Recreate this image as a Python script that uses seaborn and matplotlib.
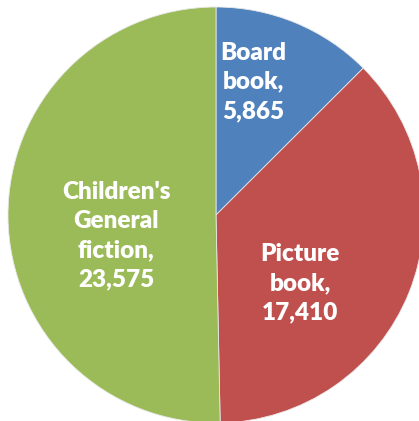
import numpy as np
import matplotlib
matplotlib.use('Agg')
import matplotlib.pyplot as plt
import seaborn as sns

# ── data ────────────────────────────────────────────────
categories = ["Board\nbook,", "Picture\nbook,", "Children's\nGeneral\nfiction,"]
values = [5865, 17410, 23575]

# ── style ───────────────────────────────────────────────
sns.set_theme(style='white')
plt.rcParams['font.family'] = ['Lato', 'DejaVu Sans']
colors = sns.color_palette(['#4F81BD', '#C0504D', '#9BBB59'])

# label placement (radius as fraction of pie radius, angular tweak in degrees)
label_r = [0.665, 0.52, 0.49]
label_shift = [7, -17, 11]

W, H = 419, 421
cx, cy, R = 216, 215, 208   # pie centre / radius in pixels

fig = plt.figure(figsize=(W / 100, H / 100), dpi=100)
ax = fig.add_axes([0, 0, 1, 1])
wedges, _ = ax.pie(values, colors=colors, startangle=90, counterclock=False,
                   radius=1.0, wedgeprops={'linewidth': 0.6, 'edgecolor': '#e8e8e8'})

for w, cat, v, r, d in zip(wedges, categories, values, label_r, label_shift):
    mid = np.deg2rad((w.theta1 + w.theta2) / 2 + d)
    ax.text(r * np.cos(mid), r * np.sin(mid), f"{cat}\n{v:,}",
            ha='center', va='center', color='white', fontsize=17.5,
            fontweight='heavy', linespacing=1.4)

ax.set_xlim(-cx / R, (W - cx) / R)
ax.set_ylim(-(H - cy) / R, cy / R)
ax.set_aspect('equal')
ax.axis('off')

fig.savefig('out.png', dpi=100, facecolor='white')
